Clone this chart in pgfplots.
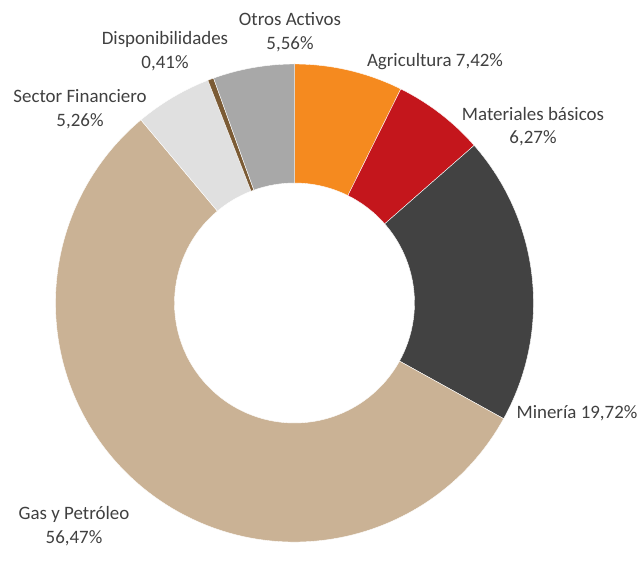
\documentclass[border=0pt]{standalone}
\usepackage{pgfplots}
\usepackage{pgfplotstable}
\pgfplotsset{compat=1.18}
\usepackage{fontspec}
\setmainfont{Carlito}
\definecolor{cAgr}{HTML}{F58A1F}
\definecolor{cMat}{HTML}{C4161C}
\definecolor{cMin}{HTML}{424242}
\definecolor{cGas}{HTML}{CAB295}
\definecolor{cFin}{HTML}{E0E0E0}
\definecolor{cDis}{HTML}{7B5B35}
\definecolor{cOtr}{HTML}{A8A8A8}
\definecolor{txt}{HTML}{404040}

\pgfplotstableread{
label value
Agricultura 7.42
Materiales 6.27
Mineria 19.72
Gas 56.47
Financiero 5.26
Disponibilidades 0.41
Otros 5.56
}\shares

% cumulative sums
\gdef\cum{0}
\expandafter\gdef\csname cum0\endcsname{0}
\foreach \i in {0,...,6}{%
  \pgfplotstablegetelem{\i}{value}\of\shares
  \pgfmathsetmacro\newcum{\cum+\pgfplotsretval}%
  \xdef\cum{\newcum}%
  \pgfmathtruncatemacro\j{\i+1}%
  \expandafter\xdef\csname cum\j\endcsname{\newcum}%
}
\foreach \k in {0,...,7}{%
  \pgfmathsetmacro\frac{\csname cum\k\endcsname/\cum}%
  \pgfmathsetmacro\ang{90-360*\frac}%
  \expandafter\xdef\csname ang\k\endcsname{\ang}%
}
\def\A#1{\csname ang#1\endcsname}

\newcommand\donutwedge[3]{%
  \fill[#1, draw=white, line width=0.4bp]
    (axis cs:294.5,242) ++(#2:239bp) arc[start angle=#2, end angle=#3, radius=239bp]
    -- ([shift={(#3:120bp)}]axis cs:294.5,242)
    arc[start angle=#3, end angle=#2, radius=120bp] -- cycle;}

\tikzset{lbl/.style={text=txt, font=\fontsize{19}{23.5}\selectfont, align=center, inner sep=0pt}}

\begin{document}
\begin{tikzpicture}
\begin{axis}[x=1bp, y=1bp, xmin=0, xmax=641, ymin=0, ymax=545,
  hide axis, clip=false]
\path (axis cs:0,0) rectangle (axis cs:641,545);
\donutwedge{cAgr}{\A0}{\A1}
\donutwedge{cMat}{\A1}{\A2}
\donutwedge{cMin}{\A2}{\A3}
\donutwedge{cGas}{\A3}{\A4}
\donutwedge{cFin}{\A4}{\A5}
\donutwedge{cDis}{\A5}{\A6}
\donutwedge{cOtr}{\A6}{\A7}
\node[lbl] at (axis cs:290,513) {Otros Activos\\5,56\%};
\node[lbl] at (axis cs:165,494) {Disponibilidades\\0,41\%};
\node[lbl] at (axis cs:80,436) {Sector Financiero\\5,26\%};
\node[lbl] at (axis cs:435,483) {Agricultura 7,42\%};
\node[lbl] at (axis cs:533,418.5) {Materiales básicos\\6,27\%};
\node[lbl] at (axis cs:577,132) {Minería 19,72\%};
\node[lbl] at (axis cs:74,19) {Gas y Petróleo\\56,47\%};
\end{axis}
\end{tikzpicture}
\end{document}
